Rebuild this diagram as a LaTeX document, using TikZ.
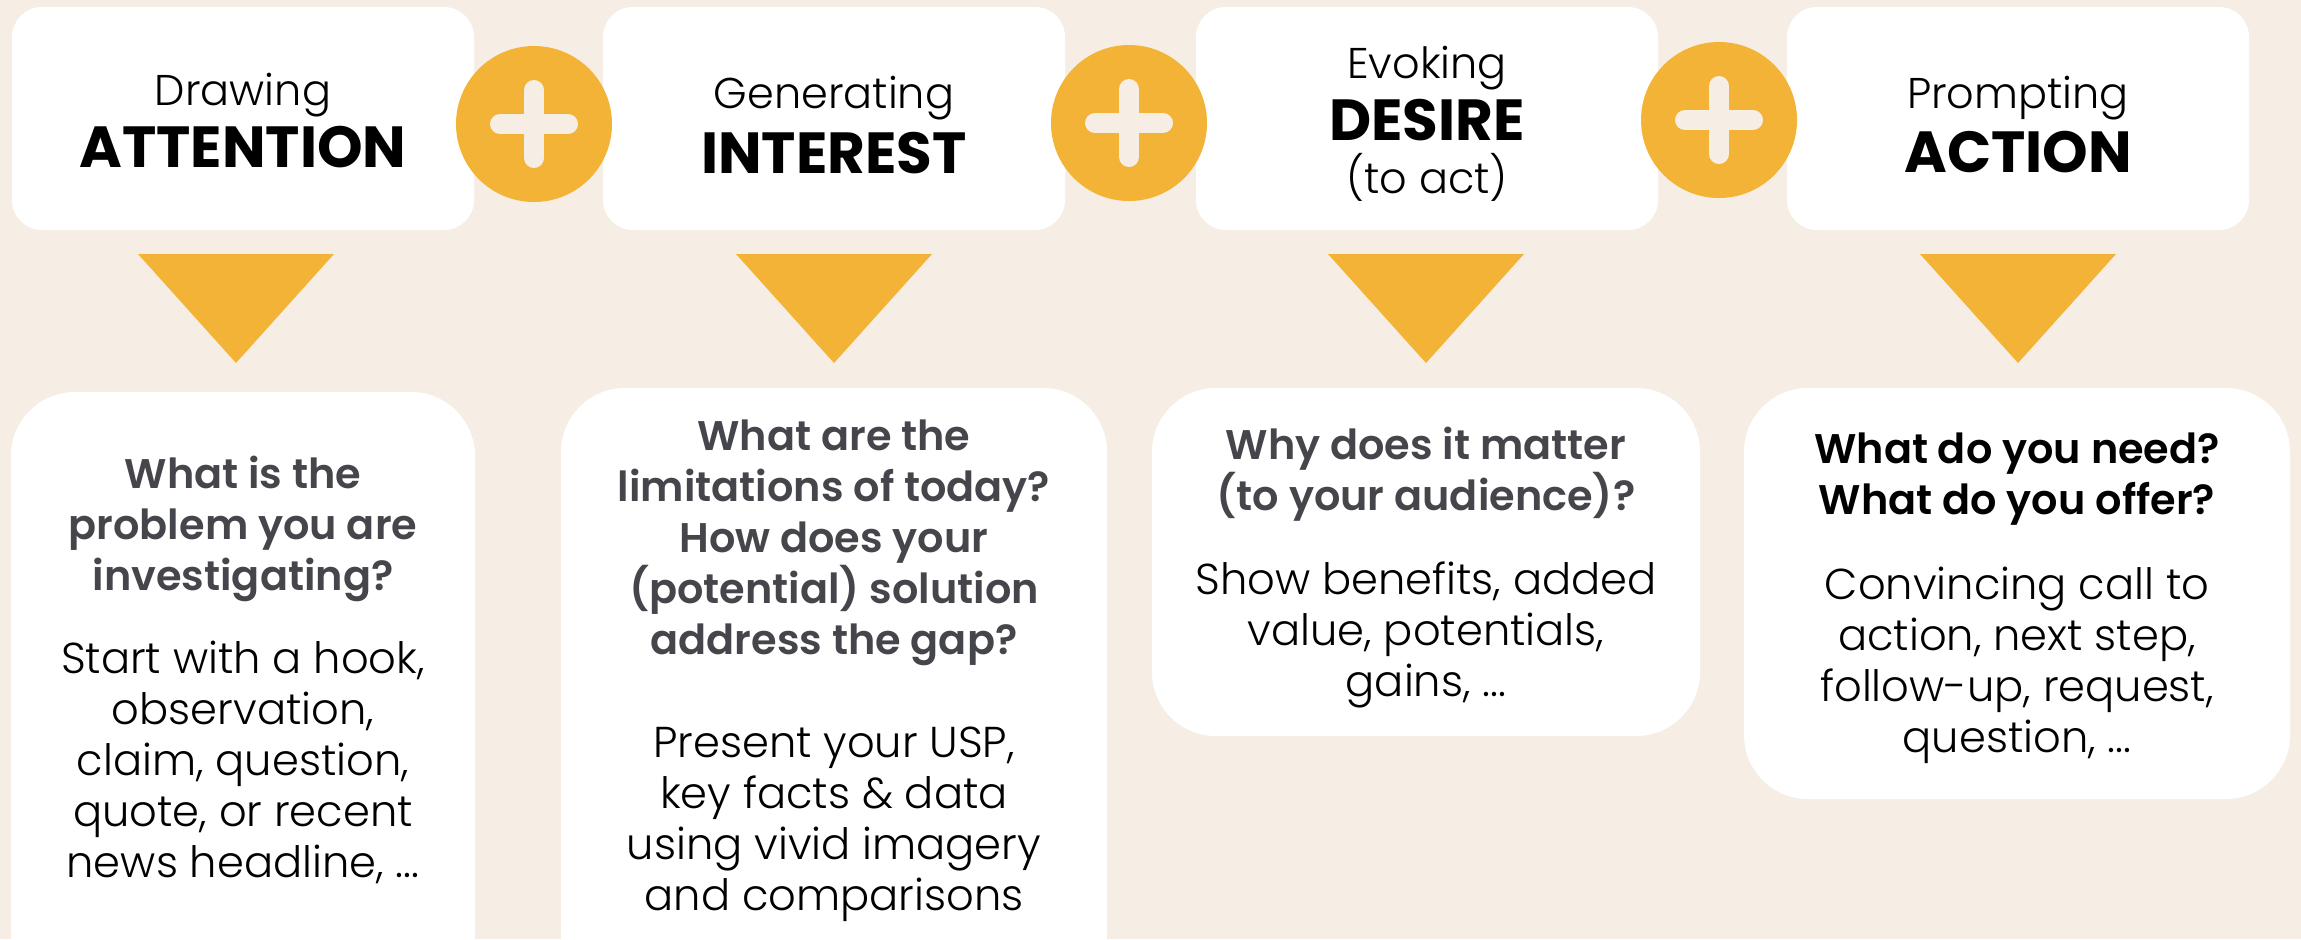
\documentclass[tikz,border=0pt]{standalone}
\usepackage{fontspec}
\setmainfont{Poppins}[UprightFont={* Light},BoldFont={* SemiBold}]
\newfontfamily\capsfont{Poppins}[UprightFont={* Bold}]
\definecolor{cream}{HTML}{F6EEE5}
\definecolor{marigold}{HTML}{F3B336}
\definecolor{slate}{HTML}{45454C}

\begin{document}
\begin{tikzpicture}[x=0.5pt,y=-0.5pt,
  headbox/.style={fill=white,rounded corners=15pt,minimum width=231pt,minimum height=111.5pt,inner sep=0pt},
  bodybox/.style={fill=white,rounded corners=32pt,inner sep=0pt},
  lite/.style={anchor=base,inner sep=0pt,font=\fontsize{21.5}{26}\selectfont},
  caps/.style={anchor=base,inner sep=0pt,font=\capsfont\fontsize{29}{34}\selectfont},
  quest/.style={align=center,inner sep=0pt,text=slate,font=\bfseries\fontsize{20.7}{25.5}\selectfont,
    execute at begin node=\strut,execute at end node=\strut},
  descr/.style={align=center,inner sep=0pt,font=\fontsize{21.6}{25.5}\selectfont,
    execute at begin node=\strut,execute at end node=\strut}]
  \useasboundingbox (0,0) rectangle (2301,939);
  \clip (0,0) rectangle (2301,939);
  \fill[cream] (0,0) rectangle (2301,939);
  % top row
  \node[headbox] (h1) at (243,118.5) {};
  \node[headbox] (h2) at (834,118.5) {};
  \node[headbox] (h3) at (1427,118.5) {};
  \node[headbox] (h4) at (2018,118.5) {};
  \node[lite] (h1a) at (243,105) {Drawing};
  \node[caps] (h1b) at (243,167) {ATTENTION};
  \node[lite] (h2a) at (834,108) {Generating};
  \node[caps] (h2b) at (834,173) {INTEREST};
  \node[lite] (h3a) at (1427,78) {Evoking};
  \node[caps] (h3b) at (1427,140) {DESIRE};
  \node[lite] (h3c) at (1427,193) {(to act)};
  \node[lite] (h4a) at (2018,108) {Prompting};
  \node[caps] (h4b) at (2018,172) {ACTION};
  % plus signs
  \foreach \cx/\cy in {534/124,1129/123,1719/120} {
    \fill[marigold] (\cx,\cy) circle[radius=78];
    \draw[cream,line width=10pt,line cap=round]
      (\cx-34,\cy) -- (\cx+34,\cy) (\cx,\cy-34) -- (\cx,\cy+34);
  }
  % triangles
  \foreach \cx in {236,834,1426,2018}
    \fill[marigold] (\cx-98,254) -- (\cx+98,254) -- (\cx,363) -- cycle;
  % bottom row
  \node[bodybox,minimum width=232pt,minimum height=304pt] (b1) at (243,696) {};
  \node[bodybox,minimum width=273pt,minimum height=306pt] (b2) at (834,694) {};
  \node[bodybox,minimum width=274pt,minimum height=174pt] (b3) at (1426,562) {};
  \node[bodybox,minimum width=273pt,minimum height=205.5pt] (b4) at (2017,593.5) {};
  \node[quest] (q1) at (243,530.5) {What is the\\problem you are\\investigating?};
  \node[descr] (d1) at (243,767.3) {Start with a hook,\\observation,\\claim, question,\\quote, or recent\\news headline, ...};
  \node[quest] (q2) at (834,544.8) {What are the\\limitations of today?\\How does your\\(potential) solution\\address the gap?};
  \node[descr] (d2) at (834,826.3) {Present your USP,\\key facts \& data\\using vivid imagery\\and comparisons};
  \node[quest] (q3) at (1426,476.8) {Why does it matter\\(to your audience)?};
  \node[descr] (d3) at (1426,636.3) {Show benefits, added\\value, potentials,\\gains, ...};
  \node[quest,text=black] (q4) at (2017,481.6) {What do you need?\\What do you offer?};
  \node[descr] (d4) at (2017,667.3) {Convincing call to\\action, next step,\\follow-up, request,\\question, ...};
\end{tikzpicture}
\end{document}
